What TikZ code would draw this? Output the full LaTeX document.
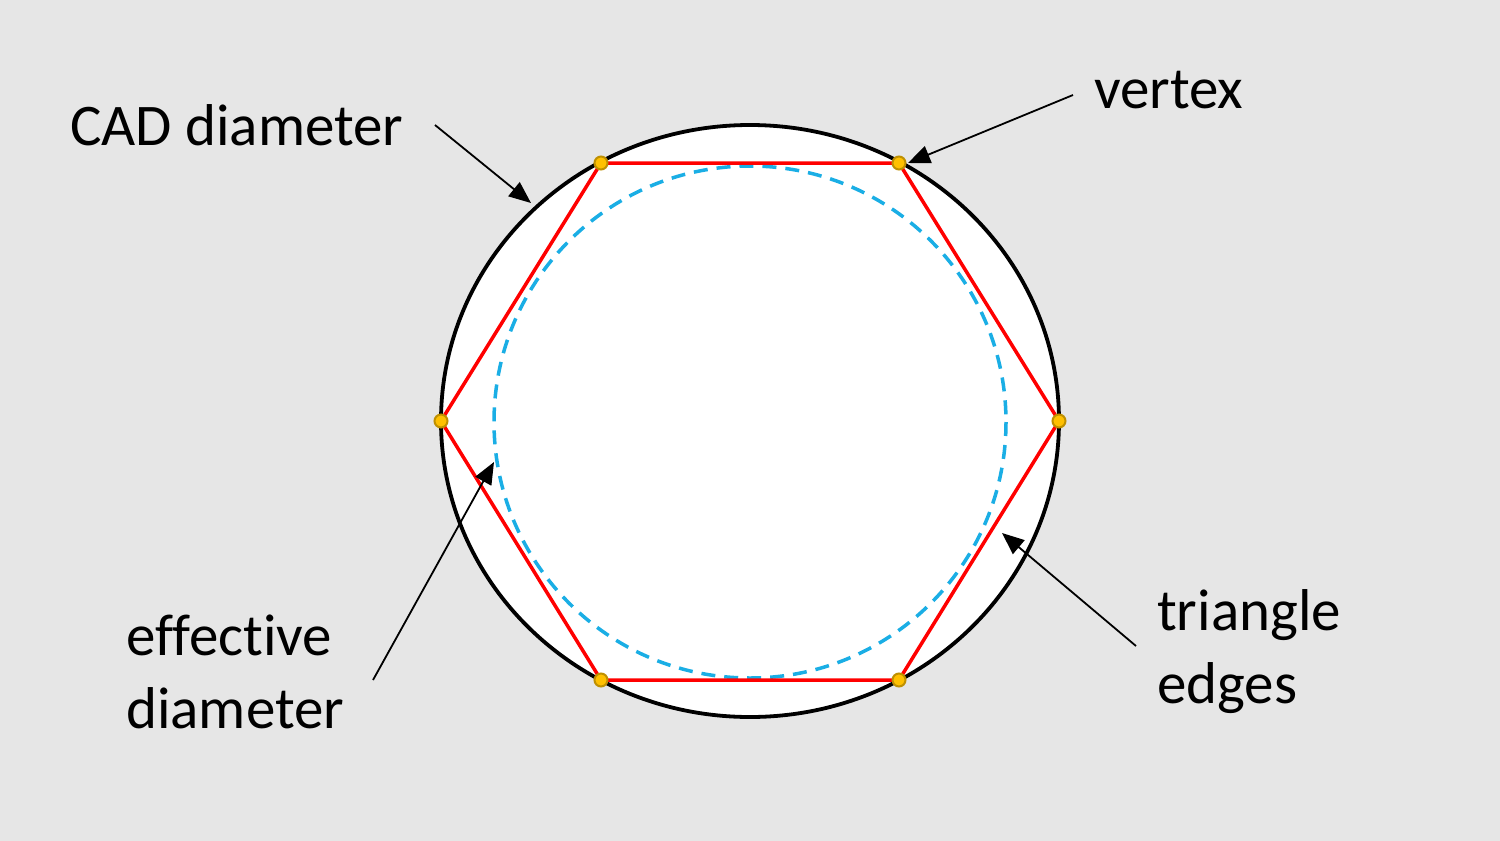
\documentclass[tikz,border=0pt]{standalone}
\usepackage{fontspec}
\setmainfont{Carlito}[Ligatures=NoCommon]
\usetikzlibrary{arrows.meta}
\definecolor{bggray}{HTML}{E6E6E6}
\definecolor{hexred}{HTML}{FF0000}
\definecolor{effblue}{HTML}{1AAEE5}
\definecolor{dotfill}{HTML}{FFC000}
\definecolor{dotdraw}{HTML}{BF9000}
\tikzset{
  lbl/.style={anchor=base west, inner sep=0pt, font=\fontsize{59}{70}\selectfont},
  pointer/.style={draw=black, line width=1.8pt, -{Triangle[length=22pt,width=18pt]}},
  vdot/.style={circle, fill=dotfill, draw=dotdraw, line width=2pt, minimum size=13pt, inner sep=0pt},
}
\begin{document}
\begin{tikzpicture}[x=1pt,y=-1pt]
\useasboundingbox (0,0) rectangle (1500,841);
\fill[bggray] (0,0) rectangle (1500,841);
% CAD outline
\draw[black, line width=3.8pt, fill=white] (750,421) ellipse [x radius=309, y radius=296];
% effective diameter
\draw[effblue, line width=3.5pt, dash pattern=on 14pt off 9pt] (750,422) circle [radius=256];
% hexagon vertices
\coordinate (v1) at (441,421);
\coordinate (v2) at (601,163);
\coordinate (v3) at (899,163);
\coordinate (v4) at (1059,421);
\coordinate (v5) at (899,680);
\coordinate (v6) at (601,680);
\draw[hexred, line width=3.5pt, line join=round] (v1) -- (v2) -- (v3) -- (v4) -- (v5) -- (v6) -- cycle;
\foreach \v in {v1,v2,v3,v4,v5,v6} \node[vdot] (d\v) at (\v) {};
% labels
\node[lbl] (cad) at (70,145) {CAD diameter};
\node[lbl] (vtx) at (1094,108) {vertex};
\node[lbl] (eff1) at (126,655) {effective};
\node[lbl] (eff2) at (126,728) {diameter};
\node[lbl] (tri1) at (1157,630) {triangle};
\node[lbl] (tri2) at (1157,703) {edges};
% pointer ends
\coordinate (cadS) at (435,125);
\coordinate (cadT) at (531,203);
\coordinate (vtxS) at (1073,95);
\coordinate (vtxT) at (908,163);
\coordinate (effS) at (373,680);
\coordinate (effT) at (494,462);
\coordinate (triS) at (1136,646);
\coordinate (triT) at (1002,533);
\draw[pointer] (cadS) -- (cadT);
\draw[pointer] (vtxS) -- (vtxT);
\draw[pointer] (effS) -- (effT);
\draw[pointer] (triS) -- (triT);
\end{tikzpicture}
\end{document}
